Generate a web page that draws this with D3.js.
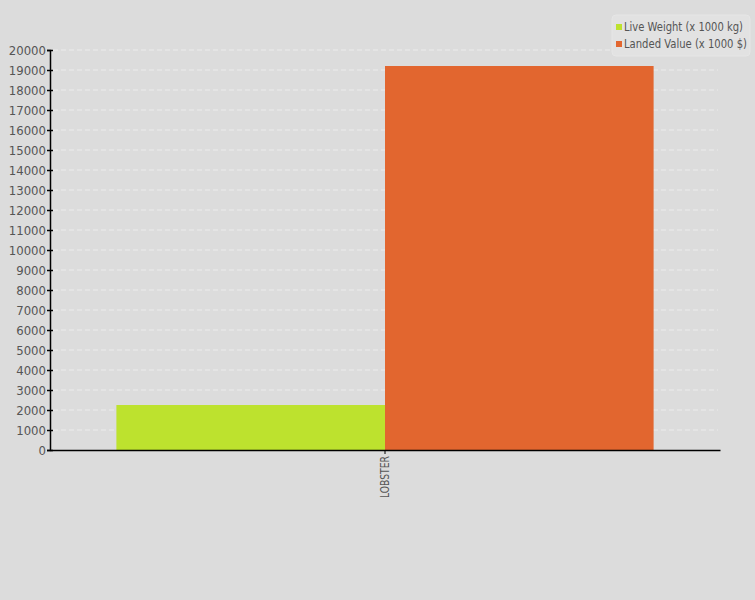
<!DOCTYPE html>
<html><head><meta charset="utf-8">
<script src="https://cdn.jsdelivr.net/npm/d3@7"></script>
<style>
body{margin:0;background:#dcdcdc;}
svg{display:block;}
svg text{font-family:"DejaVu Sans Condensed","DejaVu Sans",sans-serif;font-stretch:condensed;}
</style></head><body>
<script>
const categories = ["LOBSTER"];
const seriesNames = ["Live Weight (x 1000 kg)", "Landed Value (x 1000 $)"];
const liveWeight = [2250];
const landedValue = [19200];
const yTicks = d3.range(0, 20001, 1000);
const colors = ["#bde22e", "#e2662f"];

const W = 755, H = 600;
const m = {top: 50, left: 50, right: 35, bottom: 150};
const svg = d3.select("body").append("svg").attr("width", W).attr("height", H);
svg.append("rect").attr("width", W).attr("height", H).attr("fill", "#dcdcdc");

const x0 = d3.scaleBand().domain(categories).range([m.left, W - m.right]).paddingInner(0.11).paddingOuter(0.11);
const x1 = d3.scaleBand().domain(seriesNames).range([0, x0.bandwidth()]);
const y = d3.scaleLinear().domain([0, 20000]).range([H - m.bottom, m.top]);

// grid
svg.append("g").selectAll("line").data(yTicks.filter(d => d > 0)).join("line")
  .attr("x1", m.left + 3).attr("x2", W - m.right - 2)
  .attr("y1", d => y(d)).attr("y2", d => y(d))
  .attr("stroke", "#ececec").attr("stroke-width", 1).attr("stroke-dasharray", "5,3");

const data = categories.map((c, i) => ({c, vals: [liveWeight[i], landedValue[i]]}));
const g = svg.append("g").selectAll("g").data(data).join("g")
  .attr("transform", d => `translate(${x0(d.c)},0)`);
g.selectAll("rect").data(d => d.vals.map((v, j) => ({k: seriesNames[j], v, j}))).join("rect")
  .attr("x", d => x1(d.k)).attr("width", x1.bandwidth())
  .attr("y", d => y(d.v)).attr("height", d => y(0) - y(d.v))
  .attr("fill", d => colors[d.j]);

// y axis
const ya = svg.append("g").attr("transform", `translate(${m.left},0)`)
  .call(d3.axisLeft(y).tickValues(yTicks).tickSize(3).tickFormat(d3.format("d")));
ya.attr("font-family", null);
ya.select(".domain").attr("stroke", "#000").attr("stroke-width", 1.5);
ya.selectAll(".tick line").attr("x1", -3).attr("x2", 3).attr("stroke", "#000").attr("stroke-width", 1.5);
ya.selectAll("text").attr("font-size", 13).attr("fill", "#555").attr("x", -4);

// x axis
const xa = svg.append("g").attr("transform", `translate(0,${y(0)})`)
  .call(d3.axisBottom(x0).tickSize(4).tickSizeOuter(0));
xa.attr("font-family", null);
xa.select(".domain").attr("stroke", "#000").attr("stroke-width", 1.5);
xa.selectAll(".tick line").attr("stroke", "#000");
xa.selectAll("text").attr("font-size", 12).attr("fill", "#555")
  .attr("transform", "rotate(-90)").attr("text-anchor", "end")
  .attr("x", -6).attr("y", 0).attr("dy", "0.35em")
  .attr("textLength", 42).attr("lengthAdjust", "spacingAndGlyphs");

// legend
const lg = svg.append("g").attr("transform", "translate(612,15)");
lg.append("rect").attr("width", 138).attr("height", 41).attr("rx", 4)
  .attr("fill", "#e2e2e2").attr("stroke", "#e6e6e6");
const legLens = [119, 123];
seriesNames.forEach((s, i) => {
  lg.append("rect").attr("x", 4).attr("y", 9 + i * 17).attr("width", 6).attr("height", 6).attr("fill", colors[i]);
  lg.append("text").attr("x", 12).attr("y", 12 + i * 17).attr("dy", "0.35em")
    .attr("font-size", 12).attr("fill", "#555")
    .attr("textLength", legLens[i]).attr("lengthAdjust", "spacingAndGlyphs").text(s);
});
</script>
</body></html>
